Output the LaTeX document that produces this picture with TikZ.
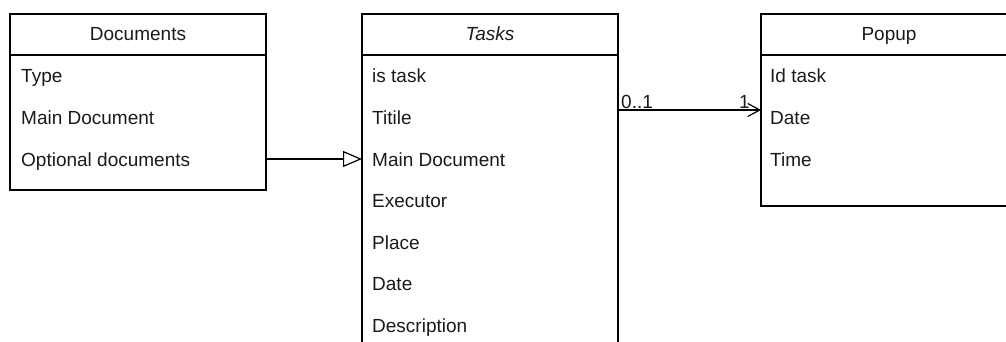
\documentclass[tikz,border=0pt]{standalone}
\usepackage{fontspec}
\setmainfont{Liberation Sans}
\usetikzlibrary{arrows.meta}
\definecolor{ink}{HTML}{1A1A1A}
\begin{document}
\begin{tikzpicture}[x=1pt,y=-1pt,
  classbox/.style={draw=black, line width=1.2pt, minimum width=256pt,
    anchor=north west, inner sep=0pt, outer sep=0pt},
  classname/.style={anchor=base, font=\fontsize{19}{23}\selectfont, text=ink, inner sep=0pt},
  field/.style={anchor=base west, font=\fontsize{19}{23}\selectfont, text=ink, inner sep=0pt},
  mult/.style={anchor=base west, font=\fontsize{19}{23}\selectfont, text=ink, inner sep=0pt},
  rel/.style={draw=black, line width=1.2pt}]
\useasboundingbox (0,0) rectangle (1006,342);

% class boxes
\node[classbox, minimum height=176pt] (docs) at (10,14) {};
\node[classbox, minimum height=350pt] (tasks) at (362,14) {};
\node[classbox, minimum height=192pt] (popup) at (761,14) {};

% header separators
\foreach \c in {docs,tasks,popup}
  \draw[line width=1.2pt] ([yshift=-41pt]\c.north west) -- ([yshift=-41pt]\c.north east);

% class names
\node[classname] (docsName) at (138,41) {Documents};
\node[classname] (tasksName) at (490,41) {\itshape Tasks};
\node[classname] (popupName) at (889,41) {Popup};

% Documents fields
\node[field] (dType) at (21,83) {Type};
\node[field] (dMain) at (21,124.5) {Main Document};
\node[field] (dOpt)  at (21,166) {Optional documents};

% Tasks fields
\node[field] (tIs)    at (372,83) {is task};
\node[field] (tTitle) at (372,124.5) {Titile};
\node[field] (tMain)  at (372,166) {Main Document};
\node[field] (tExec)  at (372,207.5) {Executor};
\node[field] (tPlace) at (372,249) {Place};
\node[field] (tDate)  at (372,290.5) {Date};
\node[field] (tDesc)  at (372,332) {Description};

% Popup fields
\node[field] (pId)   at (770,83) {Id task};
\node[field] (pDate) at (770,124.5) {Date};
\node[field] (pTime) at (770,166) {Time};

% relation rows
\coordinate (inheritRow) at (0,159);
\coordinate (assocRow) at (0,110);

% generalisation
\draw[rel, -{Triangle[open, length=19pt, width=16pt, fill=white, line width=1.2pt]}]
  (docs.east |- inheritRow) -- (tasks.west |- inheritRow);

% association with multiplicities
\draw[rel, -{Straight Barb[length=12pt, width=13pt, line width=1.2pt]}]
  (tasks.east |- assocRow) -- (popup.west |- assocRow);
\node[mult] (mFrom) at (621,108.5) {0..1};
\node[mult] (mTo) at (739,108.5) {1};
\end{tikzpicture}
\end{document}
